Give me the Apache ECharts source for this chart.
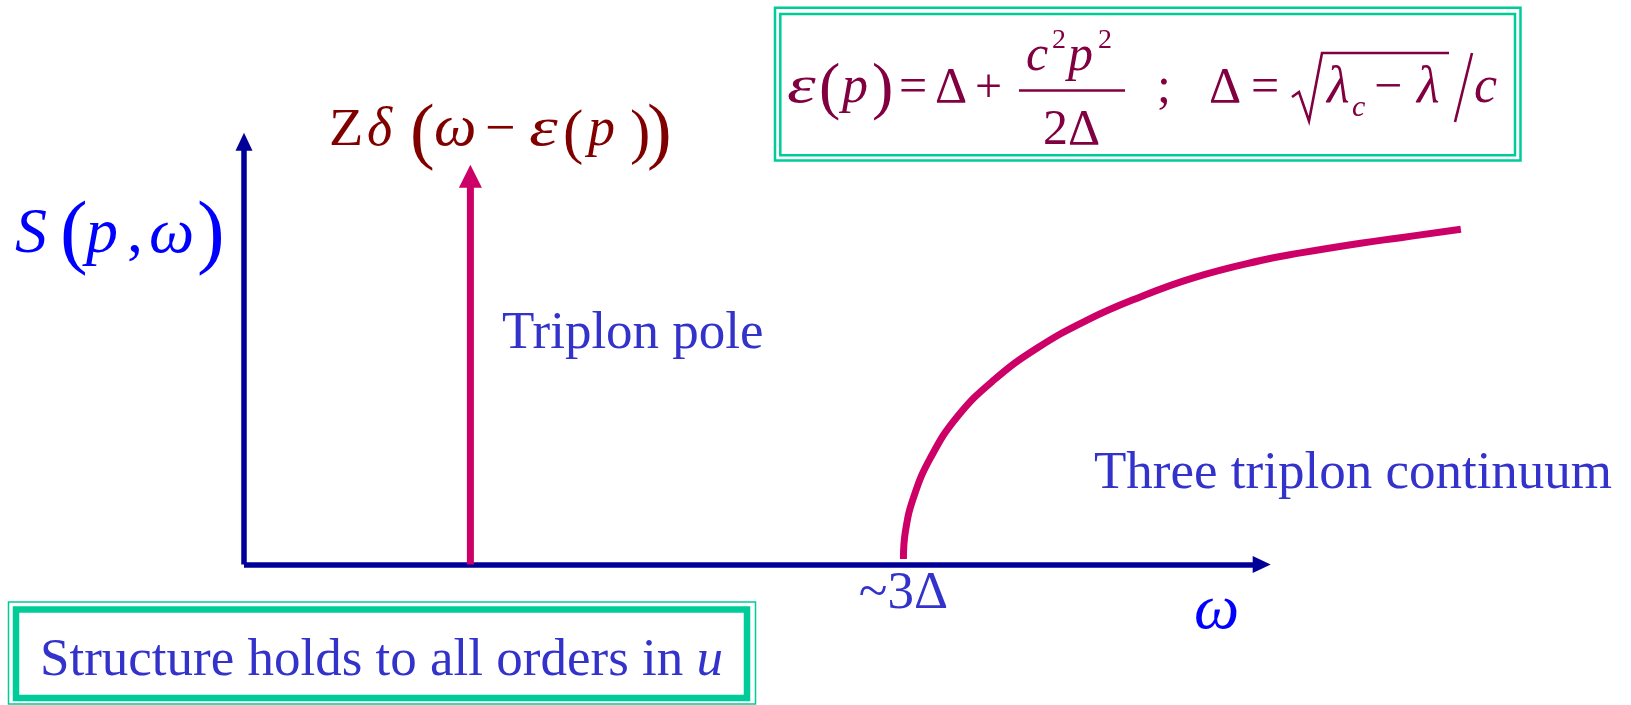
<!DOCTYPE html>
<html>
<head>
<meta charset="utf-8">
<title>S(p, ω) – triplon pole and three-triplon continuum</title>
<script src="https://cdn.jsdelivr.net/npm/echarts@6/dist/echarts.min.js"></script>
<style>
  html, body { margin: 0; padding: 0; background: #ffffff; }
  #chart { width: 1631px; height: 705px; }
</style>
</head>
<body>
<div id="chart"></div>
<script>
// ω measured in units of the gap Δ; S(p, ω) in arbitrary units
const omegaRange = [0, 4.63];      // drawn ω axis (ends in the arrow)
const curveOmegaRange = [0, 5.6];  // same scale, wide enough for the whole continuum
const spectralRange = [0, 10];

// single-particle pole at ω = ε(p)
const poleOmega = 1.03;
const poleWeight = 9.18;

// three-triplon continuum, starting near 3Δ
const continuumOmega = [3.000, 3.009, 3.047, 3.123, 3.244, 3.411, 3.609, 3.836, 4.064, 4.319, 4.625, 4.807, 5.080, 5.262, 5.536];
const continuumS     = [0.13, 0.78, 1.60, 2.52, 3.49, 4.36, 5.12, 5.78, 6.30, 6.78, 7.19, 7.37, 7.60, 7.73, 7.93];

// ω-axis tick labels
const omegaTicks = [3];
const omegaTickLabels = ['~3Δ'];

const SERIF = '"Liberation Serif", "Times New Roman", serif';
const AXIS_BLUE = '#000099';
const MAGENTA = '#cc0066';
const TEXT_BLUE = '#3333cc';
const PURE_BLUE = '#0000ff';
const MAROON = '#800000';
const WINE = '#800040';
const TEAL = '#00cc99';

// plot frame in pixels
const PLOT_LEFT = 244, PLOT_TOP = 141.7, PLOT_BOTTOM = 140.5, AXIS_END = 1261.7, CHART_W = 1631;
const pxPerOmega = (AXIS_END - PLOT_LEFT) / (omegaRange[1] - omegaRange[0]);
const curveRight = CHART_W - (PLOT_LEFT + pxPerOmega * (curveOmegaRange[1] - curveOmegaRange[0]));

// place a glyph by its left edge and its alphabetic baseline
function glyph(text, left, baseline, size, fill, italic, sx) {
  return {
    type: 'text', silent: true,
    x: left, y: baseline - 0.225 * size,
    scaleX: sx || 1,
    style: {
      text: text, fill: fill, fontFamily: SERIF, fontSize: size,
      fontStyle: italic ? 'italic' : 'normal',
      align: 'left', verticalAlign: 'middle'
    }
  };
}
function seg(points, width, color) {
  return {
    type: 'polyline', silent: true,
    shape: { points: points },
    style: { stroke: color, lineWidth: width, fill: null, lineJoin: 'miter' }
  };
}
function frame(x, y, w, h, width, color) {
  return {
    type: 'rect', silent: true,
    shape: { x: x, y: y, width: w, height: h },
    style: { stroke: color, lineWidth: width, fill: null }
  };
}

const graphics = [
  // ε(p) = Δ + c²p² / 2Δ ; Δ = √(λc − λ) / c
  frame(775, 7.8, 745.5, 152.7, 2.5, TEAL),
  frame(780.3, 14, 734.7, 141.3, 2.5, TEAL),
  glyph('ε', 787, 100, 52, WINE, true, 1.4),
  glyph('(', 819, 105, 64, WINE, false),
  glyph('p', 842, 100, 52, WINE, true),
  glyph(')', 872, 105, 64, WINE, false),
  glyph('=', 899, 100, 50, WINE, false),
  glyph('Δ', 935, 100, 50, WINE, false),
  glyph('+', 975, 100, 48, WINE, false),
  glyph('c', 1026, 68, 50, WINE, true),
  glyph('2', 1052, 47, 28, WINE, false),
  glyph('p', 1068, 68, 50, WINE, true),
  glyph('2', 1098, 47, 28, WINE, false),
  seg([[1019, 90.5], [1125, 90.5]], 2.5, WINE),
  glyph('2Δ', 1043, 142, 50, WINE, false),
  glyph(';', 1157, 100, 50, WINE, false),
  glyph('Δ', 1209, 100, 50, WINE, false),
  glyph('=', 1251, 100, 50, WINE, false),
  seg([[1292, 97], [1299, 92], [1309, 121], [1322, 53], [1449, 53]], 2.6, WINE),
  glyph('λ', 1327, 100, 52, WINE, true),
  glyph('c', 1352, 115, 30, WINE, true),
  glyph('−', 1374, 100, 50, WINE, false),
  glyph('λ', 1417, 100, 52, WINE, true),
  seg([[1472, 53], [1455, 122]], 2.6, WINE),
  glyph('c', 1474, 100, 52, WINE, true),

  // Zδ(ω − ε(p))
  glyph('Z', 329, 143, 52, MAROON, false, 1.08),
  glyph('δ', 367, 143, 54, MAROON, true),
  glyph('(', 410, 152, 74, MAROON, false),
  glyph('ω', 434, 143, 60, MAROON, true),
  glyph('−', 485, 143, 54, MAROON, false),
  glyph('ε', 529, 143, 54, MAROON, true, 1.35),
  glyph('(', 563, 149.8, 61, MAROON, false),
  glyph('p', 588, 143, 54, MAROON, true),
  glyph(')', 630, 149.8, 61, MAROON, false),
  glyph(')', 647, 152, 74, MAROON, false),

  // S(p, ω)
  glyph('S', 15, 250, 64, PURE_BLUE, true),
  glyph('(', 60, 255, 83, PURE_BLUE, false),
  glyph('p', 86, 250, 64, PURE_BLUE, true),
  glyph(',', 127, 250, 64, PURE_BLUE, false),
  glyph('ω', 149, 250, 64, PURE_BLUE, true),
  glyph(')', 197, 255, 83, PURE_BLUE, false),

  // ω axis name
  glyph('ω', 1194, 626, 64, PURE_BLUE, true),

  // annotations
  glyph('Triplon pole', 502, 346, 53, TEXT_BLUE, false),
  glyph('Three triplon continuum', 1094, 486, 53, TEXT_BLUE, false),

  // footnote box
  frame(8.5, 602, 747, 102, 1.5, TEAL),
  frame(16, 609.5, 731, 88.5, 6.5, TEAL),
  {
    type: 'text', silent: true,
    x: 40, y: 673.3 - 0.225 * 53,
    style: {
      text: '{r|Structure holds to all orders in }{i|u}',
      fill: TEXT_BLUE, fontFamily: SERIF, fontSize: 53,
      align: 'left', verticalAlign: 'middle',
      rich: {
        r: { fontFamily: SERIF, fontSize: 53, fill: TEXT_BLUE },
        i: { fontFamily: SERIF, fontSize: 53, fill: TEXT_BLUE, fontStyle: 'italic' }
      }
    }
  }
];

const axisLineStyle = (symbolSize) => ({
  show: true,
  symbol: ['none', 'triangle'],
  symbolSize: symbolSize,
  lineStyle: { color: AXIS_BLUE, width: 5.5, cap: 'butt' }
});
const hiddenAxis = {
  axisLine: { show: false }, axisTick: { show: false },
  axisLabel: { show: false }, splitLine: { show: false }
};

const chart = echarts.init(document.getElementById('chart'), null, { renderer: 'canvas' });
chart.setOption({
  backgroundColor: '#ffffff',
  animation: false,
  grid: [
    { left: PLOT_LEFT, right: CHART_W - AXIS_END, top: PLOT_TOP, bottom: PLOT_BOTTOM },
    { left: PLOT_LEFT, right: curveRight, top: PLOT_TOP, bottom: PLOT_BOTTOM }
  ],
  xAxis: [
    {
      gridIndex: 0, type: 'value',
      min: omegaRange[0], max: omegaRange[1], interval: 3,
      axisLine: axisLineStyle([17, 18]),
      axisTick: { show: false },
      splitLine: { show: false },
      axisLabel: {
        show: true, margin: 3,
        color: TEXT_BLUE, fontFamily: SERIF, fontSize: 53,
        showMinLabel: false, showMaxLabel: false,
        formatter: function (v) {
          const i = omegaTicks.indexOf(v);
          return i >= 0 ? omegaTickLabels[i] : '';
        }
      }
    },
    Object.assign({ gridIndex: 1, type: 'value', min: curveOmegaRange[0], max: curveOmegaRange[1] }, hiddenAxis)
  ],
  yAxis: [
    {
      gridIndex: 0, type: 'value',
      min: spectralRange[0], max: spectralRange[1],
      axisLine: axisLineStyle([17, 18]),
      axisTick: { show: false },
      splitLine: { show: false },
      axisLabel: { show: false }
    },
    Object.assign({ gridIndex: 1, type: 'value', min: spectralRange[0], max: spectralRange[1] }, hiddenAxis)
  ],
  series: [
    {
      name: 'Three triplon continuum',
      type: 'line',
      xAxisIndex: 1, yAxisIndex: 1,
      data: continuumOmega.map((w, i) => [w, continuumS[i]]),
      smooth: 0.45,
      clip: false,
      symbol: 'none',
      silent: true,
      lineStyle: { color: MAGENTA, width: 7, cap: 'butt' },
      z: 3
    },
    {
      name: 'Triplon pole',
      type: 'line',
      xAxisIndex: 0, yAxisIndex: 0,
      data: [[poleOmega, 0], [poleOmega, poleWeight]],
      clip: false,
      symbol: 'none',
      silent: true,
      lineStyle: { color: MAGENTA, width: 7, cap: 'butt' },
      markPoint: {
        silent: true,
        symbol: 'triangle',
        symbolSize: [23, 23],
        itemStyle: { color: MAGENTA },
        label: { show: false },
        data: [{ coord: [poleOmega, poleWeight] }]
      },
      z: 3
    }
  ],
  graphic: graphics
});
</script>
</body>
</html>
